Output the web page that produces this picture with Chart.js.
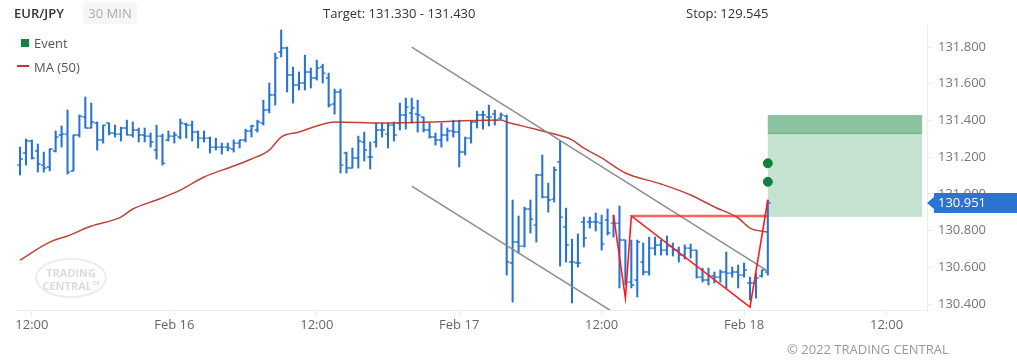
<!DOCTYPE html>
<html>
<head>
<meta charset="utf-8">
<script src="https://cdn.jsdelivr.net/npm/chart.js@4.4.1/dist/chart.umd.min.js"></script>
<style>
  body { margin: 0; background: #fff; font-family: "Open Sans", sans-serif; }
  #wrap { position: relative; width: 1017px; height: 364px; overflow: hidden; }
  #chart { position: absolute; left: 0; top: 0; }
  .txt { position: absolute; white-space: nowrap; font-size: 13px; line-height: 18px; color: #333; }
  #badge { position: absolute; left: 83px; top: 2px; width: 54px; height: 22px; line-height: 22px;
           background: #f6f6f6; border-radius: 3px; color: #aaa; font-size: 13px; text-align: center; }
  #evtBox { position: absolute; left: 21px; top: 39px; width: 8px; height: 8px; background: #118040; }
  #maLine { position: absolute; left: 17px; top: 65px; width: 12px; height: 2px; background: #c0392b; }
  #logo { position: absolute; left: 35px; top: 258px; width: 68px; height: 36px; border: 2.5px solid #ececec;
          border-radius: 50%; color: #dcdcdc; font: bold 11px/10px "Open Sans", sans-serif; text-align: center; }
  #logo div { margin-top: 8px; }
</style>
</head>
<body>
<div id="wrap">
  <canvas id="chart" width="1017" height="364"></canvas>
  <div class="txt" style="left:14px;top:4px;font-weight:600;">EUR/JPY</div>
  <div id="badge">30 MIN</div>
  <div class="txt" style="left:323px;top:4px;">Target: 131.330 - 131.430</div>
  <div class="txt" style="left:686px;top:4px;">Stop: 129.545</div>
  <div id="evtBox"></div>
  <div class="txt" style="left:34px;top:34px;color:#555;">Event</div>
  <div id="maLine"></div>
  <div class="txt" style="left:34px;top:58px;color:#555;">MA (50)</div>
  <div id="logo"><div>TRADING<br>CENTRAL<sup style="font-size:5px">TM</sup></div></div>
  <div class="txt" style="left:787px;top:340px;font-size:13px;color:#999;">© 2022 TRADING CENTRAL</div>
</div>
<script>
// 30 min bars, x = hours since Feb 15 00:00
var firstBarHour = 11;
var barStep = 0.5;

var opens = [131.157, 131.223, 131.288, 131.234, 131.157, 131.147, 131.234, 131.321, 131.326, 131.125,
  131.321, 131.419, 131.359, 131.386, 131.294, 131.386, 131.332, 131.326, 131.359, 131.321,
  131.348, 131.321, 131.315, 131.239, 131.315, 131.294, 131.315, 131.310, 131.381, 131.375,
  131.337, 131.304, 131.304, 131.255, 131.255, 131.255, 131.245, 131.277, 131.294, 131.343,
  131.348, 131.386, 131.457, 131.539, 131.773, 131.795, 131.648, 131.593, 131.604, 131.664,
  131.631, 131.691, 131.631, 131.490, 131.555, 131.223, 131.141, 131.196, 131.283, 131.201,
  131.283, 131.348, 131.326, 131.375, 131.386, 131.430, 131.441, 131.435, 131.419, 131.348,
  131.310, 131.294, 131.321, 131.343, 131.337, 131.228, 131.304, 131.392, 131.430, 131.419,
  131.435, 131.413, 131.424, 130.624, 130.738, 130.716, 130.918, 130.830, 131.103, 130.983,
  130.972, 131.174, 130.820, 130.629, 130.624, 130.847, 130.847, 130.847, 130.841, 130.858,
  130.841, 130.841, 130.749, 130.520, 130.531, 130.629, 130.575, 130.705, 130.722, 130.694,
  130.716, 130.694, 130.667, 130.705, 130.694, 130.547, 130.531, 130.553, 130.547, 130.575,
  130.569, 130.575, 130.558, 130.515, 130.515, 130.553, 130.575];
var highs = [131.255, 131.299, 131.294, 131.272, 131.228, 131.245, 131.343, 131.370, 131.457, 131.321,
  131.430, 131.528, 131.495, 131.392, 131.375, 131.386, 131.375, 131.364, 131.402, 131.392,
  131.359, 131.359, 131.332, 131.375, 131.326, 131.343, 131.337, 131.408, 131.386, 131.397,
  131.343, 131.343, 131.310, 131.304, 131.277, 131.277, 131.294, 131.294, 131.353, 131.375,
  131.402, 131.511, 131.604, 131.767, 131.893, 131.800, 131.691, 131.664, 131.756, 131.686,
  131.729, 131.707, 131.658, 131.571, 131.571, 131.228, 131.250, 131.315, 131.337, 131.283,
  131.386, 131.386, 131.386, 131.392, 131.495, 131.522, 131.522, 131.511, 131.419, 131.386,
  131.332, 131.386, 131.359, 131.402, 131.402, 131.310, 131.397, 131.451, 131.451, 131.484,
  131.457, 131.441, 131.430, 130.967, 130.880, 130.929, 130.967, 131.108, 131.212, 131.059,
  131.147, 131.288, 130.923, 130.754, 130.782, 130.874, 130.874, 130.896, 130.885, 130.918,
  130.885, 130.934, 130.749, 130.749, 130.749, 130.733, 130.765, 130.765, 130.749, 130.771,
  130.733, 130.711, 130.722, 130.727, 130.694, 130.596, 130.596, 130.575, 130.586, 130.684,
  130.602, 130.613, 130.624, 130.547, 130.569, 130.586, 130.967];
var lows = [131.103, 131.157, 131.190, 131.119, 131.119, 131.125, 131.228, 131.255, 131.108, 131.125,
  131.310, 131.359, 131.359, 131.239, 131.277, 131.321, 131.310, 131.288, 131.321, 131.310,
  131.283, 131.283, 131.255, 131.190, 131.157, 131.288, 131.277, 131.299, 131.304, 131.288,
  131.250, 131.283, 131.223, 131.239, 131.217, 131.234, 131.228, 131.250, 131.283, 131.310,
  131.337, 131.375, 131.441, 131.484, 131.746, 131.555, 131.495, 131.566, 131.566, 131.577,
  131.620, 131.604, 131.473, 131.435, 131.114, 131.114, 131.141, 131.141, 131.179, 131.136,
  131.255, 131.310, 131.250, 131.288, 131.348, 131.353, 131.386, 131.337, 131.337, 131.304,
  131.266, 131.255, 131.288, 131.310, 131.147, 131.212, 131.277, 131.359, 131.353, 131.370,
  131.375, 131.408, 130.558, 130.411, 130.678, 130.711, 130.787, 130.738, 130.978, 130.901,
  130.956, 130.607, 130.629, 130.406, 130.602, 130.711, 130.814, 130.798, 130.694, 130.776,
  130.765, 130.488, 130.504, 130.488, 130.439, 130.558, 130.558, 130.667, 130.667, 130.667,
  130.662, 130.629, 130.645, 130.651, 130.542, 130.520, 130.504, 130.515, 130.520, 130.488,
  130.547, 130.488, 130.547, 130.422, 130.433, 130.547, 130.558];
var closes = [131.190, 131.288, 131.196, 131.163, 131.141, 131.245, 131.310, 131.326, 131.119, 131.321,
  131.424, 131.359, 131.392, 131.294, 131.375, 131.332, 131.326, 131.359, 131.321, 131.348,
  131.321, 131.315, 131.283, 131.315, 131.168, 131.315, 131.321, 131.386, 131.375, 131.337,
  131.304, 131.304, 131.255, 131.255, 131.255, 131.250, 131.277, 131.294, 131.343, 131.370,
  131.392, 131.457, 131.539, 131.740, 131.795, 131.648, 131.593, 131.604, 131.664, 131.631,
  131.686, 131.658, 131.484, 131.555, 131.157, 131.141, 131.196, 131.288, 131.239, 131.201,
  131.348, 131.348, 131.375, 131.321, 131.430, 131.473, 131.468, 131.430, 131.348, 131.310,
  131.294, 131.321, 131.343, 131.337, 131.228, 131.304, 131.392, 131.430, 131.430, 131.419,
  131.402, 131.430, 130.629, 130.738, 130.716, 130.918, 130.863, 131.103, 130.983, 130.967,
  131.130, 130.874, 130.722, 130.629, 130.624, 130.760, 130.847, 130.847, 130.727, 130.787,
  130.841, 130.749, 130.520, 130.504, 130.738, 130.575, 130.705, 130.722, 130.694, 130.716,
  130.694, 130.667, 130.705, 130.694, 130.547, 130.531, 130.553, 130.547, 130.575, 130.569,
  130.575, 130.558, 130.586, 130.515, 130.542, 130.586, 130.951];

// MA (50)
var maHours = [11, 13.5, 15, 17, 19.5, 20.5, 22.5, 24.5, 26.5, 29, 30.5, 32, 33, 34.5, 36, 37.5, 41.5, 45.5,
  51.5, 52, 54, 55, 56, 57.5, 58.5, 60, 62, 65, 67.5, 69.5, 71.5, 72.5, 74];
var maValues = [130.640, 130.738, 130.771, 130.825, 130.874, 130.918, 130.967, 131.021, 131.092, 131.152,
  131.190, 131.239, 131.310, 131.337, 131.370, 131.392, 131.386, 131.392, 131.402, 131.392, 131.359,
  131.343, 131.326, 131.294, 131.250, 131.196, 131.114, 131.054, 130.994, 130.929, 130.869, 130.814, 130.792];

// channel and pattern
var channelTopHours = [44, 74];
var channelTopValues = [131.800, 130.580];
var channelBottomHours = [44, 61];
var channelBottomValues = [131.043, 130.355];
var zigzagHours = [61, 62, 62.5, 72.5, 74];
var zigzagValues = [130.885, 130.433, 130.880, 130.384, 130.967];
var necklineHours = [62.5, 74];
var necklineValues = [130.880, 130.880];

// events, target zone, last price
var eventHours = [74, 74];
var eventValues = [131.167, 131.066];
var targetLow = 131.330;
var targetHigh = 131.430;
var zoneBottom = 130.875;
var zoneHours = [74, 87];
var lastPrice = 130.951;

var xTickHours = [12, 24, 36, 48, 60, 72, 84];
var xTickLabels = ["12:00", "Feb 16", "12:00", "Feb 17", "12:00", "Feb 18", "12:00"];
var yTicks = [130.4, 130.6, 130.8, 131.0, 131.2, 131.4, 131.6, 131.8];

var barColor = "#2773d0";

var barHours = [];
for (var i = 0; i < closes.length; i++) {
    barHours.push(firstBarHour + i * barStep);
}

function pts(xs, ys) {
    return xs.map(function(x, i) { return {x: x, y: ys[i]}; });
}

// open / close ticks on the bar dataset
var ohlcTicks = {
    id: "ohlcTicks",
    afterDatasetDraw: function(chart, args) {
        if (args.index !== 0) return;
        var ctx = chart.ctx, x = chart.scales.x, y = chart.scales.y, area = chart.chartArea;
        ctx.save();
        ctx.beginPath();
        ctx.rect(area.left, area.top, area.right - area.left, area.bottom - area.top);
        ctx.clip();
        ctx.strokeStyle = barColor;
        ctx.lineWidth = 1.4;
        ctx.beginPath();
        barHours.forEach(function(t, i) {
            var px = x.getPixelForValue(t);
            var yo = y.getPixelForValue(opens[i]);
            var yc = y.getPixelForValue(closes[i]);
            ctx.moveTo(px - 2.8, yo); ctx.lineTo(px, yo);
            ctx.moveTo(px, yc); ctx.lineTo(px + 2.8, yc);
        });
        ctx.stroke();
        ctx.restore();
    }
};

// target zone behind the bars
var targetZone = {
    id: "targetZone",
    beforeDatasetsDraw: function(chart) {
        var ctx = chart.ctx, x = chart.scales.x, y = chart.scales.y;
        var x0 = x.getPixelForValue(zoneHours[0]), x1 = x.getPixelForValue(zoneHours[1]);
        var yHi = y.getPixelForValue(targetHigh), yLo = y.getPixelForValue(targetLow);
        var yB = y.getPixelForValue(zoneBottom);
        ctx.save();
        ctx.fillStyle = "#c4e2cf";
        ctx.fillRect(x0, yHi, x1 - x0, yB - yHi);
        ctx.fillStyle = "#8bc29f";
        ctx.fillRect(x0, yHi, x1 - x0, yLo - yHi);
        ctx.fillStyle = "#79b28e";
        ctx.fillRect(x0, yLo - 0.5, x1 - x0, 1.2);
        ctx.restore();
    }
};

// last price flag on the right axis
var priceFlag = {
    id: "priceFlag",
    afterDraw: function(chart) {
        var ctx = chart.ctx, y = chart.scales.y, area = chart.chartArea;
        var py = y.getPixelForValue(lastPrice);
        var left = area.right + 7;
        ctx.save();
        ctx.fillStyle = "#2b74d2";
        ctx.beginPath();
        ctx.moveTo(area.right, py);
        ctx.lineTo(left, py - 6);
        ctx.lineTo(left, py - 10);
        ctx.lineTo(1017, py - 10);
        ctx.lineTo(1017, py + 10);
        ctx.lineTo(left, py + 10);
        ctx.lineTo(left, py + 6);
        ctx.closePath();
        ctx.fill();
        ctx.fillStyle = "#fff";
        ctx.font = "13px 'Open Sans'";
        ctx.textBaseline = "middle";
        ctx.fillText(lastPrice.toFixed(3), area.right + 11, py + 0.5);
        ctx.restore();
    }
};

var ctx = document.getElementById("chart").getContext("2d");

var chart = new Chart(ctx, {
    type: "bar",
    data: {
        datasets: [
            {
                type: "bar",
                data: barHours.map(function(t, i) { return {x: t, y: [lows[i], highs[i]]}; }),
                backgroundColor: barColor,
                barThickness: 1.4,
                grouped: false,
                order: 10
            },
            {
                type: "line",
                data: pts(maHours, maValues),
                borderColor: "rgba(185,45,35,0.9)",
                borderWidth: 1.5,
                pointRadius: 0,
                cubicInterpolationMode: "monotone",
                order: 5
            },
            {
                type: "line",
                data: pts(channelTopHours, channelTopValues),
                borderColor: "#8c8c8c",
                borderWidth: 1.5,
                pointRadius: 0,
                order: 4
            },
            {
                type: "line",
                data: pts(channelBottomHours, channelBottomValues),
                borderColor: "#8c8c8c",
                borderWidth: 1.5,
                pointRadius: 0,
                order: 4
            },
            {
                type: "line",
                data: pts(necklineHours, necklineValues),
                borderColor: "rgba(255,30,30,0.7)",
                borderWidth: 2.4,
                pointRadius: 0,
                order: 3
            },
            {
                type: "line",
                data: pts(zigzagHours, zigzagValues),
                borderColor: "#ff1a1a",
                borderWidth: 1.6,
                pointRadius: 0,
                order: 2
            },
            {
                type: "scatter",
                data: pts(eventHours, eventValues),
                backgroundColor: "#11803f",
                borderColor: "#11803f",
                pointRadius: 4.5,
                order: 1
            }
        ]
    },
    options: {
        responsive: false,
        animation: false,
        devicePixelRatio: 1,
        layout: { padding: { left: 16, top: 25, right: 0, bottom: 0 } },
        plugins: {
            legend: { display: false },
            tooltip: { enabled: false }
        },
        scales: {
            x: {
                type: "linear",
                min: 10.66,
                max: 87.41,
                offset: false,
                afterFit: function(s) { s.height = 54; },
                afterBuildTicks: function(s) {
                    s.ticks = xTickHours.map(function(v) { return {value: v}; });
                },
                ticks: {
                    autoSkip: false,
                    maxRotation: 0,
                    padding: 0,
                    color: "#666",
                    font: { family: "Open Sans", size: 13 },
                    callback: function(v, i) { return xTickLabels[i]; }
                },
                grid: { drawOnChartArea: false, offset: false, tickLength: 7, color: "#ececec" },
                border: { color: "#ececec" }
            },
            y: {
                position: "right",
                min: 130.368,
                max: 131.92,
                afterFit: function(s) { s.width = 90; },
                afterBuildTicks: function(s) {
                    s.ticks = yTicks.map(function(v) { return {value: v}; });
                },
                ticks: {
                    padding: 6,
                    color: "#777",
                    font: { family: "Open Sans", size: 13 },
                    callback: function(v) { return v.toFixed(3); }
                },
                grid: { drawOnChartArea: false, tickLength: 5, color: "#ececec" },
                border: { color: "#ececec" }
            }
        }
    },
    plugins: [targetZone, ohlcTicks, priceFlag]
});
</script>
</body>
</html>
